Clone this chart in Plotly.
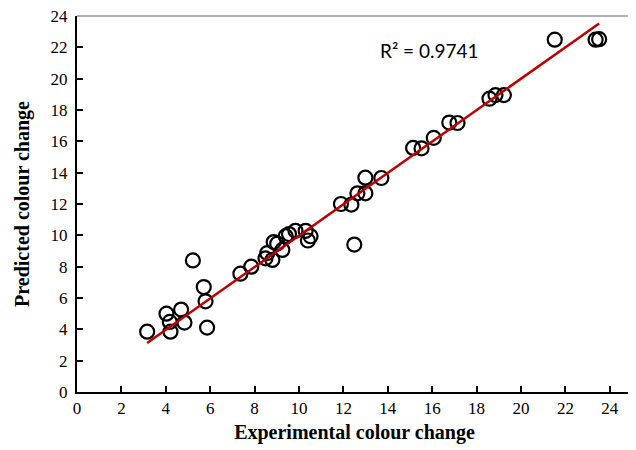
import plotly.graph_objects as go

experimental = [3.16, 4.03, 4.18, 4.21, 4.69, 4.84, 5.22, 5.71, 5.79, 5.86,
                7.36, 7.85, 8.49, 8.57, 8.80, 8.86, 9.02, 9.25, 9.40, 9.55,
                9.84, 10.30, 10.40, 10.52, 12.49, 11.89, 12.36, 12.63, 12.99, 12.99,
                13.71, 15.14, 15.52, 16.07, 16.77, 17.14, 18.58, 18.85, 19.23,
                21.52, 23.36, 23.52]
predicted = [3.85, 5.0, 4.47, 3.85, 5.26, 4.43, 8.40, 6.70, 5.79, 4.11,
             7.55, 8.0, 8.53, 8.87, 8.43, 9.57, 9.47, 9.07, 9.95, 10.08,
             10.29, 10.29, 9.67, 9.94, 9.41, 12.0, 11.96, 12.68, 12.68, 13.68,
             13.66, 15.58, 15.55, 16.22, 17.2, 17.17, 18.72, 18.95, 18.95,
             22.49, 22.49, 22.52]
x_ticks = list(range(0, 25, 2))
y_ticks = list(range(0, 25, 2))
r2_label = "R² = 0.9741"
# linear trendline as drawn in the reference
fit_slope = 1.002
fit_intercept = -0.04

fit_x = [min(experimental), max(experimental)]
fit_y = [fit_slope * v + fit_intercept for v in fit_x]

fig = go.Figure()
fig.add_trace(go.Scatter(
    x=experimental, y=predicted, mode="markers",
    marker=dict(symbol="circle-open", size=14, color="black",
                line=dict(width=2.2, color="black")),
    showlegend=False, cliponaxis=False))
fig.add_trace(go.Scatter(
    x=fit_x, y=fit_y, mode="lines",
    line=dict(color="#c00000", width=2.5), showlegend=False))

serif = "Times New Roman"
# page body adds an 8px offset, so the figure is 8px smaller on each axis
fig.update_layout(
    width=628, height=442,
    margin=dict(l=69, r=4, t=8, b=58),
    paper_bgcolor="white", plot_bgcolor="white",
    font=dict(family=serif, color="black"),
    xaxis=dict(range=[0, 25], tickvals=x_ticks, ticks="inside", ticklen=6,
               tickwidth=2, tickcolor="black", showgrid=False, zeroline=False,
               showline=True, linecolor="black", linewidth=2, automargin=False,
               ticklabeloverflow="allow",
               tickfont=dict(family=serif, size=17, color="black",
                             weight="normal"),
               title=dict(text="<b>Experimental colour change</b>",
                          font=dict(family=serif, size=20, color="black"),
                          standoff=8)),
    yaxis=dict(range=[0, 24], tickvals=y_ticks, ticks="inside", ticklen=6,
               tickwidth=2, tickcolor="black", showgrid=False, zeroline=False,
               showline=True, linecolor="black", linewidth=2, automargin=False,
               ticklabelstandoff=4, ticklabeloverflow="allow",
               tickfont=dict(family=serif, size=17, color="black",
                             weight="normal"),
               title=dict(text="<b>Predicted colour change</b>",
                          font=dict(family=serif, size=20, color="black"),
                          standoff=16)),
    shapes=[
        dict(type="line", xref="paper", yref="paper", x0=0, x1=1, y0=1, y1=1,
             line=dict(color="#b0b0b0", width=2)),
        dict(type="line", xref="paper", yref="paper", x0=1, x1=1, y0=0, y1=1,
             line=dict(color="#b0b0b0", width=2)),
    ],
    annotations=[dict(x=13.55, y=21.8, xref="x", yref="y", text=r2_label,
                      showarrow=False, xanchor="left",
                      font=dict(family="Lato", size=19, color="black"))],
)
fig.write_html("out.html")
